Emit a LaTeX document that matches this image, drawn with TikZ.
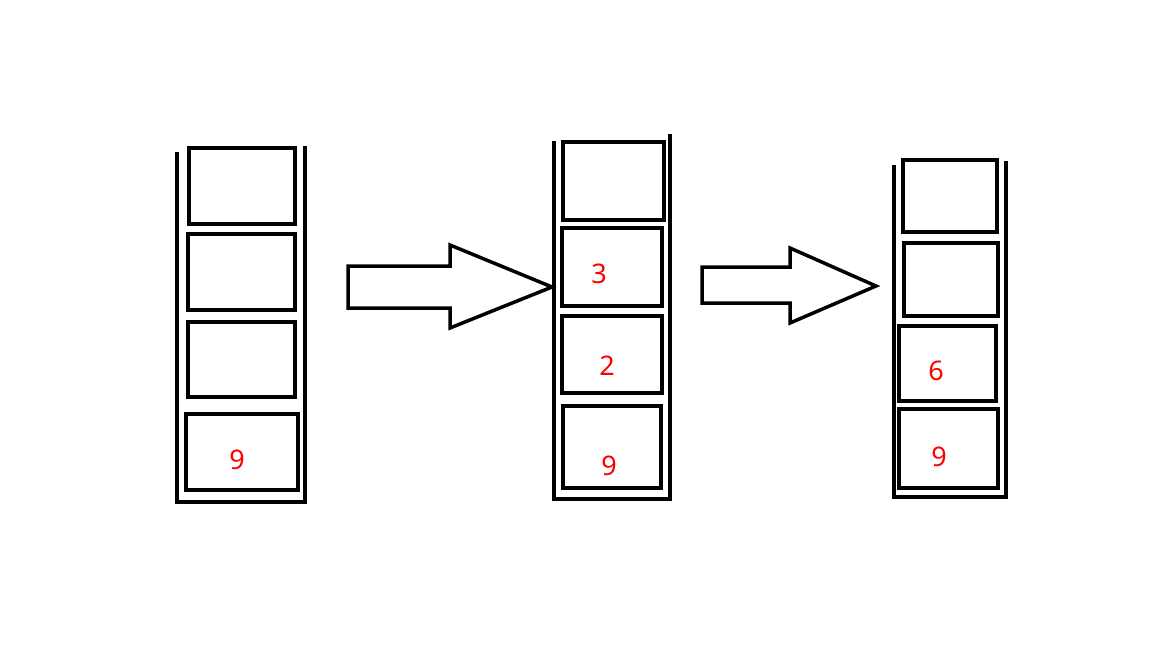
\documentclass[tikz,border=0pt]{standalone}
\usepackage{fontspec}
\setmainfont{Noto Sans}
\begin{document}
\begin{tikzpicture}[x=1pt,y=-1pt,line width=4pt,
  num/.style={text=red,font=\fontsize{27}{29}\selectfont,inner sep=0pt}]
\useasboundingbox (0,0) rectangle (1152,648);
% stack 1
\draw (177,152) -- (177,502) -- (305,502) -- (305,146);
\draw (189,148) rectangle (295,224);
\draw (188,234) rectangle (295,310);
\draw (188,322) rectangle (295,397);
\draw (186,414) rectangle (298,490);
\node[num] (a9) at (237,460) {9};
% stack 2
\draw (554,141) -- (554,499) -- (670,499) -- (670,134);
\draw (563,142) rectangle (664,220);
\draw (562,228) rectangle (662,306);
\draw (562,316) rectangle (662,393);
\draw (563,406) rectangle (661,488);
\node[num] (b3) at (599,274) {3};
\node[num] (b2) at (607,366) {2};
\node[num] (b9) at (609,466) {9};
% stack 3
\draw (894,165) -- (894,497) -- (1006,497) -- (1006,161);
\draw (903,160) rectangle (997,232);
\draw (904,243) rectangle (998,316);
\draw (899,326) rectangle (996,401);
\draw (899,409) rectangle (998,488);
\node[num] (c6) at (936,371) {6};
\node[num] (c9) at (939,457) {9};
% arrows
\draw[line width=3.5pt,line join=miter] (348,266) -- (450,266) -- (450,245) -- (552,287) -- (450,328) -- (450,308) -- (348,308) -- cycle;
\draw[line width=3.5pt,line join=miter] (702,267) -- (790,267) -- (790,248) -- (876,286) -- (790,323) -- (790,303) -- (702,303) -- cycle;
\end{tikzpicture}
\end{document}
